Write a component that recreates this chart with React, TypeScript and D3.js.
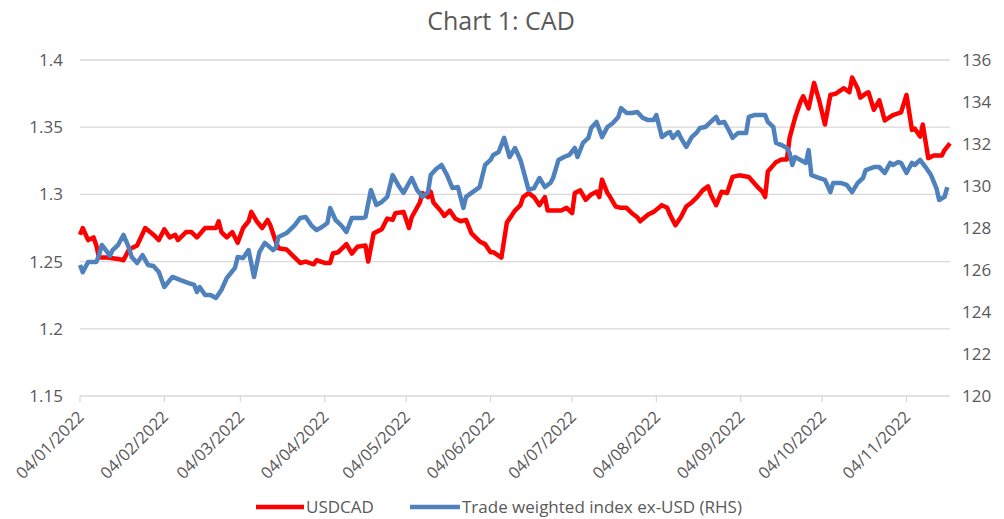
import React from 'react';
import * as d3 from 'd3';

const chartTitle = 'Chart 1: CAD';
const seriesNames = ['USDCAD', 'Trade weighted index ex-USD (RHS)'];

// USDCAD (left axis)
const usdcadDates = [
  '2022-01-04', '2022-01-05', '2022-01-07', '2022-01-09', '2022-01-10', '2022-01-11', '2022-01-14', '2022-01-18', '2022-01-20', '2022-01-22', '2022-01-25', '2022-01-28', '2022-01-31',
  '2022-02-02', '2022-02-04', '2022-02-06', '2022-02-08', '2022-02-09', '2022-02-12', '2022-02-14', '2022-02-16', '2022-02-19', '2022-02-23', '2022-02-24', '2022-02-25', '2022-02-27',
  '2022-03-01', '2022-03-03', '2022-03-05', '2022-03-07', '2022-03-08', '2022-03-10', '2022-03-12', '2022-03-14', '2022-03-15', '2022-03-17', '2022-03-18', '2022-03-21', '2022-03-24', '2022-03-26', '2022-03-28', '2022-03-31',
  '2022-04-01', '2022-04-04', '2022-04-06', '2022-04-07', '2022-04-09', '2022-04-12', '2022-04-14', '2022-04-16', '2022-04-19', '2022-04-20', '2022-04-22', '2022-04-25', '2022-04-27', '2022-04-29', '2022-04-30',
  '2022-05-03', '2022-05-05', '2022-05-06', '2022-05-09', '2022-05-10', '2022-05-12', '2022-05-13', '2022-05-14', '2022-05-17', '2022-05-18', '2022-05-20', '2022-05-22', '2022-05-24', '2022-05-26', '2022-05-28', '2022-05-31',
  '2022-06-02', '2022-06-04', '2022-06-05', '2022-06-08', '2022-06-10', '2022-06-13', '2022-06-15', '2022-06-16', '2022-06-18', '2022-06-20', '2022-06-22', '2022-06-24', '2022-06-25', '2022-06-27', '2022-06-30',
  '2022-07-02', '2022-07-04', '2022-07-05', '2022-07-07', '2022-07-09', '2022-07-11', '2022-07-13', '2022-07-14', '2022-07-15', '2022-07-17', '2022-07-18', '2022-07-20', '2022-07-22', '2022-07-24', '2022-07-26', '2022-07-28', '2022-07-29',
  '2022-08-01', '2022-08-03', '2022-08-06', '2022-08-08', '2022-08-09', '2022-08-11', '2022-08-13', '2022-08-15', '2022-08-17', '2022-08-19', '2022-08-21', '2022-08-23', '2022-08-24', '2022-08-26', '2022-08-28', '2022-08-30',
  '2022-09-01', '2022-09-03', '2022-09-04', '2022-09-07', '2022-09-10', '2022-09-12', '2022-09-13', '2022-09-14', '2022-09-17', '2022-09-19', '2022-09-21', '2022-09-22', '2022-09-24', '2022-09-26', '2022-09-27', '2022-09-29',
  '2022-10-01', '2022-10-03', '2022-10-05', '2022-10-07', '2022-10-09', '2022-10-12', '2022-10-14', '2022-10-15', '2022-10-17', '2022-10-18', '2022-10-20', '2022-10-21', '2022-10-23', '2022-10-25', '2022-10-27', '2022-10-30',
  '2022-11-02', '2022-11-04', '2022-11-06', '2022-11-07', '2022-11-09', '2022-11-10', '2022-11-12', '2022-11-14', '2022-11-17', '2022-11-18', '2022-11-20',
];
const usdcadValues = [
  1.270, 1.275, 1.266, 1.268, 1.262, 1.253, 1.253, 1.252, 1.251, 1.259, 1.262, 1.275, 1.270,
  1.266, 1.274, 1.268, 1.270, 1.266, 1.272, 1.272, 1.268, 1.275, 1.275, 1.280, 1.272, 1.268,
  1.272, 1.264, 1.275, 1.280, 1.287, 1.280, 1.275, 1.281, 1.277, 1.265, 1.260, 1.259, 1.253, 1.249, 1.250, 1.248,
  1.251, 1.249, 1.249, 1.256, 1.257, 1.263, 1.256, 1.261, 1.262, 1.250, 1.271, 1.274, 1.282, 1.281, 1.286,
  1.287, 1.275, 1.283, 1.294, 1.301, 1.298, 1.302, 1.294, 1.287, 1.284, 1.288, 1.282, 1.280, 1.281, 1.271, 1.265,
  1.263, 1.257, 1.257, 1.253, 1.279, 1.288, 1.292, 1.298, 1.301, 1.298, 1.292, 1.298, 1.288, 1.288, 1.288,
  1.290, 1.286, 1.301, 1.303, 1.296, 1.300, 1.302, 1.298, 1.311, 1.301, 1.298, 1.291, 1.290, 1.290, 1.286, 1.283, 1.280,
  1.285, 1.287, 1.292, 1.290, 1.285, 1.277, 1.283, 1.291, 1.294, 1.298, 1.303, 1.306, 1.300, 1.292, 1.302, 1.301,
  1.313, 1.314, 1.314, 1.313, 1.306, 1.302, 1.298, 1.317, 1.324, 1.326, 1.326, 1.342, 1.357, 1.369, 1.373, 1.364,
  1.383, 1.369, 1.352, 1.374, 1.375, 1.379, 1.376, 1.387, 1.379, 1.372, 1.375, 1.376, 1.363, 1.370, 1.355, 1.359,
  1.361, 1.374, 1.348, 1.349, 1.343, 1.352, 1.327, 1.329, 1.329, 1.333, 1.338,
];

// Trade weighted index ex-USD (right axis)
const twiDates = [
  '2022-01-04', '2022-01-05', '2022-01-07', '2022-01-10', '2022-01-11', '2022-01-12', '2022-01-14', '2022-01-15', '2022-01-16', '2022-01-18', '2022-01-20', '2022-01-22', '2022-01-23', '2022-01-25', '2022-01-27', '2022-01-29', '2022-01-31',
  '2022-02-02', '2022-02-04', '2022-02-07', '2022-02-10', '2022-02-13', '2022-02-15', '2022-02-16', '2022-02-17', '2022-02-19', '2022-02-21', '2022-02-23', '2022-02-25', '2022-02-27',
  '2022-03-02', '2022-03-03', '2022-03-05', '2022-03-07', '2022-03-09', '2022-03-11', '2022-03-13', '2022-03-16', '2022-03-17', '2022-03-18', '2022-03-21', '2022-03-24', '2022-03-26', '2022-03-28', '2022-03-30',
  '2022-04-01', '2022-04-03', '2022-04-05', '2022-04-06', '2022-04-08', '2022-04-10', '2022-04-12', '2022-04-14', '2022-04-18', '2022-04-19', '2022-04-21', '2022-04-23', '2022-04-25', '2022-04-27', '2022-04-29',
  '2022-05-01', '2022-05-03', '2022-05-06', '2022-05-08', '2022-05-10', '2022-05-12', '2022-05-13', '2022-05-15', '2022-05-17', '2022-05-19', '2022-05-21', '2022-05-23', '2022-05-25', '2022-05-26', '2022-05-28', '2022-05-31',
  '2022-06-02', '2022-06-04', '2022-06-05', '2022-06-07', '2022-06-09', '2022-06-11', '2022-06-13', '2022-06-15', '2022-06-17', '2022-06-18', '2022-06-20', '2022-06-22', '2022-06-24', '2022-06-26', '2022-06-27', '2022-06-29',
  '2022-07-01', '2022-07-03', '2022-07-05', '2022-07-06', '2022-07-08', '2022-07-10', '2022-07-11', '2022-07-13', '2022-07-15', '2022-07-17', '2022-07-19', '2022-07-21', '2022-07-22', '2022-07-24', '2022-07-26', '2022-07-28', '2022-07-30',
  '2022-08-01', '2022-08-03', '2022-08-04', '2022-08-06', '2022-08-08', '2022-08-09', '2022-08-10', '2022-08-12', '2022-08-13', '2022-08-15', '2022-08-17', '2022-08-19', '2022-08-20', '2022-08-22', '2022-08-24', '2022-08-26', '2022-08-27', '2022-08-29', '2022-08-31',
  '2022-09-01', '2022-09-03', '2022-09-06', '2022-09-07', '2022-09-09', '2022-09-12', '2022-09-13', '2022-09-14', '2022-09-16', '2022-09-17', '2022-09-19', '2022-09-21', '2022-09-22', '2022-09-23', '2022-09-24', '2022-09-26', '2022-09-28', '2022-09-29', '2022-09-30',
  '2022-10-03', '2022-10-05', '2022-10-07', '2022-10-08', '2022-10-11', '2022-10-13', '2022-10-15', '2022-10-17', '2022-10-19', '2022-10-20', '2022-10-23', '2022-10-25', '2022-10-27', '2022-10-29', '2022-10-30',
  '2022-11-01', '2022-11-02', '2022-11-04', '2022-11-06', '2022-11-07', '2022-11-09', '2022-11-11', '2022-11-13', '2022-11-15', '2022-11-16', '2022-11-18', '2022-11-19',
];
const twiValues = [
  126.24, 125.90, 126.38, 126.38, 126.71, 127.19, 126.86, 126.67, 126.95, 127.19, 127.67, 127.05, 126.62, 126.33, 126.71, 126.24, 126.19,
  125.90, 125.19, 125.67, 125.52, 125.38, 125.29, 124.95, 125.19, 124.81, 124.81, 124.67, 125.05, 125.62,
  126.10, 126.62, 126.57, 126.95, 125.67, 126.86, 127.29, 126.95, 127.05, 127.57, 127.76, 128.14, 128.48, 128.52, 128.14,
  127.90, 128.05, 128.24, 128.95, 128.38, 128.14, 127.81, 128.48, 128.48, 128.52, 129.81, 129.10, 129.24, 129.48, 130.52,
  130.05, 129.67, 130.38, 129.81, 129.48, 129.71, 130.52, 130.81, 131.00, 130.52, 129.90, 129.95, 128.95, 129.48, 129.67, 129.95,
  131.00, 131.24, 131.48, 131.62, 132.29, 131.38, 131.81, 131.24, 130.29, 129.81, 129.90, 130.38, 129.95, 130.14, 130.38, 131.24,
  131.38, 131.48, 131.81, 131.38, 132.05, 132.29, 132.76, 133.05, 132.33, 132.81, 133.00, 133.29, 133.71, 133.48, 133.48, 133.52, 133.24,
  133.14, 133.14, 133.38, 132.33, 132.52, 132.57, 132.29, 132.57, 132.29, 131.86, 132.33, 132.57, 132.76, 132.81, 133.05, 133.29, 133.00, 133.05, 132.57,
  132.29, 132.52, 132.52, 133.29, 133.38, 133.38, 133.38, 133.05, 132.81, 132.05, 131.95, 131.81, 131.57, 131.00, 131.38, 131.24, 131.10, 131.71, 130.52,
  130.38, 130.29, 129.71, 130.14, 130.14, 130.05, 129.71, 130.14, 130.38, 130.76, 130.90, 130.90, 130.62, 131.10, 131.00,
  131.14, 131.10, 130.62, 131.10, 131.00, 131.24, 130.90, 130.52, 129.90, 129.33, 129.48, 129.95,
];

const leftTicks = [1.15, 1.2, 1.25, 1.3, 1.35, 1.4];
const rightTicks = [120, 122, 124, 126, 128, 130, 132, 134, 136];
const monthTicks = [
  '2022-01-04', '2022-02-04', '2022-03-04', '2022-04-04', '2022-05-04', '2022-06-04',
  '2022-07-04', '2022-08-04', '2022-09-04', '2022-10-04', '2022-11-04',
];
const dateDomain = ['2022-01-04', '2022-11-20'];

const parse = d3.timeParse('%Y-%m-%d');
const fmt = d3.timeFormat('%d/%m/%Y');

const FONT = "'Open Sans', 'DejaVu Sans', sans-serif";
const TEXT = '#595959';
const GRID = '#d9d9d9';
const RED = '#ff0000';
const BLUE = '#4f81bd';

export default function App() {
  const width = 1004, height = 519;
  const left = 80, right = 950, top = 60, bottom = 396;

  const x = d3.scaleTime()
    .domain(dateDomain.map(d => parse(d) as Date))
    .range([left, right]);
  const yL = d3.scaleLinear().domain([1.15, 1.4]).range([bottom, top]);
  const yR = d3.scaleLinear().domain([120, 136]).range([bottom, top]);

  const usdcad: [Date, number][] = usdcadDates.map((d, i) => [parse(d) as Date, usdcadValues[i]]);
  const twi: [Date, number][] = twiDates.map((d, i) => [parse(d) as Date, twiValues[i]]);

  const lineL = d3.line<[Date, number]>().x(d => x(d[0])).y(d => yL(d[1]));
  const lineR = d3.line<[Date, number]>().x(d => x(d[0])).y(d => yR(d[1]));

  return (
    <svg width={width} height={height} style={{ position: 'absolute', left: 0, top: 0, background: '#fff' }}
      fontFamily={FONT}>
      <text x={501} y={30} textAnchor="middle" fontSize={25} fill={TEXT}>{chartTitle}</text>

      {/* gridlines */}
      {leftTicks.slice(1).map(t => (
        <line key={t} x1={left} x2={right} y1={yL(t)} y2={yL(t)} stroke={GRID} strokeWidth={1.3} />
      ))}
      {/* x axis */}
      <line x1={left} x2={right} y1={bottom} y2={bottom} stroke={GRID} strokeWidth={1.3} />
      {monthTicks.map(t => {
        const px = x(parse(t) as Date);
        return (
          <g key={t}>
            <line x1={px} x2={px} y1={bottom} y2={bottom + 6} stroke={GRID} strokeWidth={1.3} />
            <text transform={`translate(${px + 5},${bottom + 22}) rotate(-45)`} textAnchor="end"
              fontSize={16.5} fill={TEXT}>{fmt(parse(t) as Date)}</text>
          </g>
        );
      })}

      {/* left axis labels */}
      {leftTicks.map(t => (
        <text key={t} x={63} y={yL(t)} dy="0.35em" textAnchor="end" fontSize={17} fill={TEXT}>{String(t)}</text>
      ))}
      {/* right axis labels */}
      {rightTicks.map(t => (
        <text key={t} x={962} y={yR(t)} dy="0.35em" textAnchor="start" fontSize={17} fill={TEXT}>{t}</text>
      ))}

      <path d={lineL(usdcad) || ''} fill="none" stroke={RED} strokeWidth={4.5} strokeLinejoin="round" />
      <path d={lineR(twi) || ''} fill="none" stroke={BLUE} strokeWidth={4.5} strokeLinejoin="round" />

      {/* legend */}
      <line x1={256} x2={304} y1={507} y2={507} stroke={RED} strokeWidth={4.5} />
      <text x={306} y={513} fontSize={17} fill={TEXT}>{seriesNames[0]}</text>
      <line x1={410} x2={460} y1={507} y2={507} stroke={BLUE} strokeWidth={4.5} />
      <text x={462} y={513} fontSize={17} fill={TEXT}>{seriesNames[1]}</text>
    </svg>
  );
}
